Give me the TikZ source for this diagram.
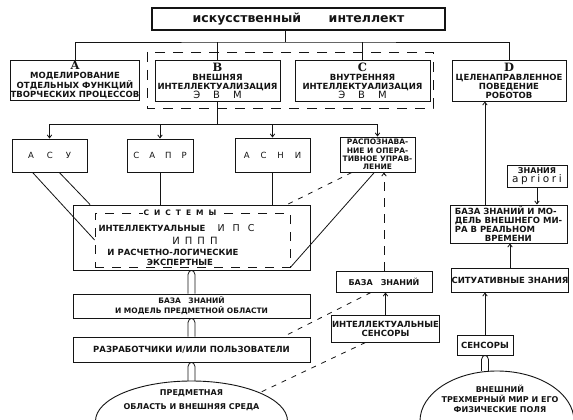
\documentclass[tikz,border=0pt]{standalone}
\usepackage{fontspec}
\setmainfont{DejaVu Sans}
\newfontfamily\letterfont{DejaVu Serif}
\usetikzlibrary{arrows.meta,calc}
\definecolor{ink}{HTML}{141414}
\tikzset{
  box/.style={draw=ink,line width=.9pt,fill=white,inner sep=.5pt,align=center,
    text=ink,font=\bfseries\fontsize{8.5}{9}\selectfont},
  lettersbox/.style={box,font=\fontsize{8.5}{9}\selectfont},
  label/.style={inner sep=1pt,text=ink,align=center,font=\bfseries\fontsize{8.5}{9}\selectfont},
  link/.style={line width=.8pt,draw=ink},
  arrow/.style={link,-{Straight Barb[length=3pt,width=4.5pt]}},
  dashlink/.style={link,dash pattern=on 5pt off 6pt},
  frame/.style={draw=ink,line width=.9pt,dash pattern=on 10pt off 8pt},
  tube/.style={line width=.8pt,draw=ink}
}
\newcommand{\bigletter}[1]{{\letterfont\bfseries\fontsize{11.5}{11.5}\selectfont #1}}
\newcommand{\evm}{{\mdseries\fontsize{10}{10}\selectfont Э\hspace{13pt}В\hspace{13pt}М}}
\newcommand{\hollowup}[2]{%
  \draw[tube] let \p1=(#1), \p2=(#2) in
    (\x2-3.5pt,\y1) -- (\x2-3.5pt,\y2-4pt)
    .. controls (\x2-3.5pt,\y2-1pt) and (\x2-1pt,\y2) .. (\x2,\y2)
    .. controls (\x2+1pt,\y2) and (\x2+3.5pt,\y2-1pt) .. (\x2+3.5pt,\y2-4pt)
    -- (\x2+3.5pt,\y1);}

\begin{document}
\begin{tikzpicture}[x=1pt,y=-1pt]
\useasboundingbox (0,0) rectangle (573,420);
\fill[white] (0,0) rectangle (573,420);

% B and C frame
\draw[frame] (147,52) rectangle (433,108);

% Top level
\node[box,minimum width=293pt,minimum height=22pt,line width=1.2pt,
  font=\bfseries\fontsize{12.5}{14}\selectfont] (title) at (298.5,19)
  {искусственный\hspace{2.2em}интеллект};
\coordinate (hub) at (285,42);

\node[box,minimum width=128pt,minimum height=40pt] (model) at (75,80)
  {\bigletter{A}\\МОДЕЛИРОВАНИЕ\\ОТДЕЛЬНЫХ ФУНКЦИЙ\\ТВОРЧЕСКИХ ПРОЦЕССОВ};
\node[box,minimum width=125pt,minimum height=41pt] (extern) at (217.5,80.5)
  {\bigletter{B}\\ВНЕШНЯЯ\\ИНТЕЛЛЕКТУАЛИЗАЦИЯ\\\evm};
\node[box,minimum width=135pt,minimum height=41pt] (intern) at (362.5,80.5)
  {\bigletter{C}\\ВНУТРЕННЯЯ\\ИНТЕЛЛЕКТУАЛИЗАЦИЯ\\\evm};
\node[box,minimum width=114pt,minimum height=41pt] (robots) at (509,80.5)
  {\bigletter{D}\\ЦЕЛЕНАПРАВЛЕННОЕ\\ПОВЕДЕНИЕ\\РОБОТОВ};

\draw[link] (title.south -| hub) -- (hub);
\draw[link] (model.north) |- (hub) -| (robots.north);
\draw[link] (extern.north) -- (extern.north |- hub);
\draw[link] (intern.north) -- (intern.north |- hub);

% Applied systems
\node[lettersbox,minimum width=75pt,minimum height=33pt] (asu) at (49.5,155.5)
  {А\hspace{13pt}С\hspace{13pt}У};
\node[lettersbox,minimum width=66pt,minimum height=33pt] (sapr) at (160,155.5)
  {С\hspace{10pt}А\hspace{10pt}П\hspace{10pt}Р};
\node[lettersbox,minimum width=75pt,minimum height=34pt] (asni) at (272.5,155)
  {А\hspace{11pt}С\hspace{11pt}Н\hspace{11pt}И};
\node[box,minimum width=75pt,minimum height=35pt,font=\bfseries\fontsize{7.5}{8.3}\selectfont] (recog) at (377.5,154.5)
  {РАСПОЗНАВА-\\НИЕ И ОПЕРА-\\ТИВНОЕ УПРАВ-\\ЛЕНИЕ};

\coordinate (fork) at (217,124);
\draw[link] (extern.south) -- (extern.south |- fork);
\draw[arrow] (fork) -| (asu.north);
\draw[arrow] (fork) -| (sapr.north);
\draw[arrow] (fork) -| (asni.north);
\draw[arrow] (fork) -| (recog.north);

% Intelligent systems
\node[box,minimum width=237pt,minimum height=65pt] (systems) at (191.5,237.5) {};
\node[draw=ink,line width=.8pt,dash pattern=on 9pt off 8pt,minimum width=195pt,
  minimum height=54pt,inner sep=0pt] (ips) at (192.5,240) {};
\node[label,fill=white,font=\bfseries\fontsize{7.5}{9}\selectfont] (sysname) at (180,213)
  {С\hspace{5pt}И\hspace{5pt}С\hspace{5pt}Т\hspace{5pt}Е\hspace{5pt}М\hspace{5pt}Ы};
\node[label] (ipsword) at (152,228) {ИНТЕЛЛЕКТУАЛЬНЫЕ};
\node[label,font=\fontsize{9.5}{10}\selectfont] (ipsabbr) at (236,228) {И\hspace{8pt}П\hspace{8pt}С};
\node[label,font=\fontsize{10}{10}\selectfont] (ipppabbr) at (195,241) {И\hspace{5pt}П\hspace{5pt}П\hspace{5pt}П};
\node[label] (logword) at (173,252) {И РАСЧЕТНО-ЛОГИЧЕСКИЕ};
\node[label] (expword) at (180,262) {ЭКСПЕРТНЫЕ};

\draw[link] (asu.-135) -- (ips.west);
\draw[link] (asu.-60) -- (systems.162);
\draw[link] (sapr.south) -- (sapr.south |- systems.north);
\draw[link] (asni.south) -- (asni.south |- systems.north);
\draw[link] (recog.-100) -- (ips.south east);
\draw[dashlink] (recog.-145) -- (systems.19);

\node[box,minimum width=237pt,minimum height=24pt,font=\bfseries\fontsize{7.5}{10}\selectfont] (kbmodel) at (191.5,306)
  {БАЗА\hspace{1em}ЗНАНИЙ\\И МОДЕЛЬ ПРЕДМЕТНОЙ ОБЛАСТИ};
\node[box,minimum width=237pt,minimum height=25pt] (users) at (191.5,349.5)
  {РАЗРАБОТЧИКИ И/ИЛИ ПОЛЬЗОВАТЕЛИ};

% Subject domain and outer world
\begin{scope}
\clip (0,0) rectangle (573,420);
\draw[link,line width=.9pt] (191.5,421) ellipse[x radius=96,y radius=40];
\draw[link,line width=.9pt] (497,421) ellipse[x radius=77,y radius=50];
\end{scope}
\coordinate (subjtop) at (191.5,381);
\coordinate (subjedge) at (259,393);
\coordinate (worldtop) at (497,371);
\node[label,font=\bfseries\fontsize{8}{14}\selectfont] (subject) at (191.5,400)
  {ПРЕДМЕТНАЯ\\ОБЛАСТЬ И ВНЕШНЯЯ СРЕДА};

\hollowup{kbmodel.north}{systems.south}
\hollowup{users.north}{kbmodel.south}
\hollowup{subjtop}{users.south}

% Knowledge base and sensors
\node[box,minimum width=96pt,minimum height=21pt,font=\bfseries\fontsize{8}{9}\selectfont] (kbmid) at (384,281.5)
  {БАЗА\hspace{1em}ЗНАНИЙ};
\node[box,minimum width=105pt,minimum height=27pt] (sensors) at (385.5,328.5)
  {ИНТЕЛЛЕКТУАЛЬНЫЕ\\СЕНСОРЫ};

\draw[arrow,dash pattern=on 9pt off 7pt] (kbmid.north) -- (kbmid.north |- recog.south);
\draw[arrow] (sensors.north) -- (sensors.north |- kbmid.south);
\draw[dashlink] (kbmid.-140) -- (users.8);
\draw[dashlink] (sensors.-145) -- (subjedge);

% Robots
\node[box,minimum width=60pt,minimum height=22pt,font=\bfseries\fontsize{8}{9}\selectfont] (apriori) at (537,176)
  {ЗНАНИЯ\\{\mdseries\fontsize{10.5}{10}\selectfont a\kern2.6pt p\kern2.6pt r\kern2.6pt i\kern2.6pt o\kern2.6pt r\kern2.6pt i}};
\node[box,minimum width=117pt,minimum height=38pt,align=left] (kbworld) at (508.5,224)
  {БАЗА ЗНАНИЙ И МО-\\ДЕЛЬ ВНЕШНЕГО МИ-\\РА В РЕАЛЬНОМ\\\hspace*{30pt}ВРЕМЕНИ};
\node[box,minimum width=116pt,minimum height=24pt] (situat) at (510,280)
  {СИТУАТИВНЫЕ ЗНАНИЯ};
\node[box,minimum width=56pt,minimum height=20pt] (robsens) at (485,345)
  {СЕНСОРЫ};
\node[label,font=\bfseries\fontsize{8}{10}\selectfont] (world) at (500,399)
  {ВНЕШНИЙ\\ТРЕХМЕРНЫЙ МИР И ЕГО\\ФИЗИЧЕСКИЕ ПОЛЯ};

\coordinate (kbworldtop) at ($(kbworld.north west)!.3!(kbworld.north east)$);
\draw[arrow] (kbworldtop) -- (kbworldtop |- robots.south);
\draw[arrow] (apriori.south) -- (apriori.south |- kbworld.north);
\draw[arrow] (situat.north) -- (situat.north |- kbworld.south);
\draw[arrow] (robsens.north) -- (robsens.north |- situat.south);
\hollowup{worldtop}{robsens.south}

\end{tikzpicture}
\end{document}
